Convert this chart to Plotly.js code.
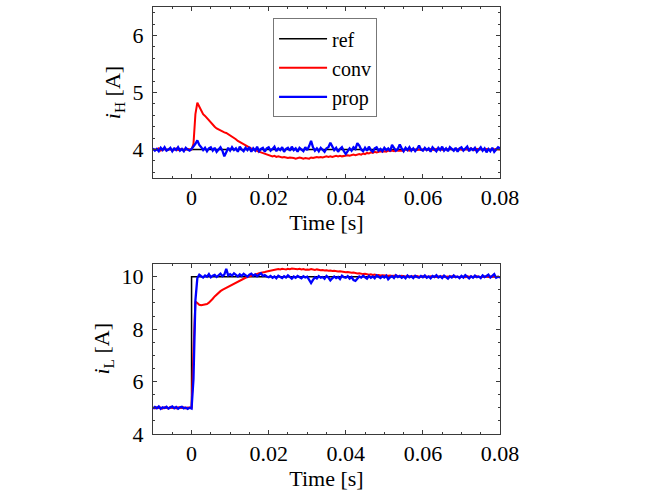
<!DOCTYPE html>
<html>
<head>
<meta charset="utf-8">
<script src="https://cdn.plot.ly/plotly-3.0.1.min.js"></script>
<style>
  body { margin: 0; background: #fff; }
  #chart { width: 649px; height: 492px; }
</style>
</head>
<body>
<div id="chart"></div>
<script>
// sampling of the measured traces: t = -0.01 s, step 0.5 ms, up to 0.08 s
var t0 = -0.01;
var dt = 0.0005;

// reference step
var refTime = [-0.01, 0, 0, 0.08];
var refH = [4, 4, 4, 4];
var refL = [5, 5, 10, 10];

// i_H, conventional
var convH = [
  4.01, 3.99, 4.00, 4.02, 3.98, 4.00, 4.01, 3.99, 4.00, 4.01, 3.98, 4.00, 4.02, 3.99, 4.00, 4.01, 3.99, 4.00, 4.01, 4.00,
  4.00, 4.10, 4.62, 4.82, 4.76, 4.68, 4.62, 4.59, 4.55, 4.50, 4.46, 4.43, 4.40, 4.37, 4.35, 4.34, 4.32, 4.30, 4.29, 4.27,
  4.24, 4.22, 4.20, 4.18, 4.15, 4.13, 4.11, 4.09, 4.07, 4.05, 4.03, 4.02, 4.00, 3.99, 3.97, 3.96, 3.95, 3.94, 3.93, 3.92,
  3.91, 3.90, 3.88, 3.89, 3.87, 3.88, 3.87, 3.86, 3.87, 3.86, 3.85, 3.86, 3.86, 3.85, 3.84, 3.85, 3.86, 3.85, 3.84, 3.85,
  3.85, 3.84, 3.86, 3.85, 3.86, 3.87, 3.86, 3.87, 3.86, 3.87, 3.88, 3.87, 3.88, 3.87, 3.88, 3.89, 3.88, 3.89, 3.88, 3.89,
  3.89, 3.90, 3.89, 3.90, 3.91, 3.90, 3.91, 3.92, 3.91, 3.93, 3.92, 3.94, 3.93, 3.95, 3.94, 3.96, 3.95, 3.96, 3.97, 3.96,
  3.97, 3.96, 3.98, 3.97, 3.98, 3.97, 3.99, 3.98, 3.98, 3.99, 3.98, 4.00, 3.99, 3.98, 4.00, 3.99, 4.00, 3.99, 4.00, 3.99,
  4.00, 4.01, 3.99, 4.00, 4.01, 4.00, 3.99, 4.01, 4.00, 4.01, 4.00, 3.99, 4.01, 4.00, 4.02, 4.00, 3.99, 4.01, 4.00, 4.01,
  4.00, 3.99, 4.01, 4.00, 4.01, 4.02, 4.00, 3.99, 4.01, 4.00, 4.01, 3.99, 4.00, 4.01, 4.00, 3.99, 4.01, 4.00, 4.01, 4.00, 4.00
];

// i_H, proposed
var propH = [
  4.02, 3.98, 4.01, 3.97, 4.03, 3.99, 4.04, 3.98, 4.00, 4.03, 3.97, 4.02, 3.99, 4.04, 3.98, 4.01, 3.97, 4.03, 4.00, 3.98,
  4.01, 4.05, 4.10, 4.16, 4.08, 4.04, 3.99, 4.03, 3.97, 4.02, 4.04, 3.98, 4.03, 3.96, 4.01, 4.04, 3.98, 3.88, 3.95, 4.03,
  3.98, 4.04, 3.99, 4.02, 3.96, 4.05, 4.00, 3.97, 4.03, 3.99, 4.04, 3.96, 4.02, 3.98, 4.05, 3.97, 4.01, 4.03, 3.96, 4.02,
  4.04, 3.98, 4.01, 4.05, 3.97, 4.02, 3.99, 4.04, 3.96, 4.01, 4.03, 3.98, 4.05, 3.99, 4.02, 3.96, 4.03, 4.00, 3.97, 4.04,
  3.99, 4.06, 4.15, 4.04, 3.98, 4.02, 3.97, 4.03, 4.00, 3.96, 4.02, 4.04, 4.12, 4.05, 3.99, 4.03, 3.96, 4.01, 4.04, 3.97,
  3.92, 3.97, 4.02, 3.98, 4.04, 4.01, 4.11, 4.07, 4.00, 3.97, 4.03, 3.98, 4.05, 3.99, 3.96, 4.02, 4.04, 3.98, 4.01, 3.97,
  4.03, 3.99, 4.02, 3.97, 4.08, 4.03, 3.98, 4.01, 4.09, 4.02, 3.97, 4.03, 3.99, 4.04, 3.98, 4.02, 3.97, 4.01, 4.07, 4.00,
  3.98, 4.03, 3.99, 4.02, 3.96, 4.04, 4.00, 3.97, 4.03, 3.99, 4.05, 3.98, 4.02, 3.97, 4.04, 4.00, 3.98, 4.03, 3.96, 4.02,
  4.04, 3.98, 4.01, 4.05, 3.97, 4.02, 3.99, 4.03, 3.96, 4.01, 4.04, 3.98, 4.02, 3.95, 4.01, 3.97, 4.03, 3.96, 4.00, 4.04, 4.02
];

// i_L, conventional
var convL = [
  5.00, 4.98, 5.02, 4.99, 5.01, 4.97, 5.02, 5.00, 4.98, 5.03, 4.99, 5.01, 4.98, 5.02, 5.00, 4.99, 5.02, 4.98, 5.01, 5.00,
  5.00, 7.20, 9.05, 9.00, 8.93, 8.91, 8.92, 8.93, 8.96, 9.01, 9.07, 9.16, 9.25, 9.33, 9.39, 9.45, 9.50, 9.54, 9.59, 9.63,
  9.66, 9.70, 9.74, 9.78, 9.82, 9.85, 9.89, 9.92, 9.96, 9.99, 10.02, 10.04, 10.07, 10.09, 10.11, 10.13, 10.14, 10.16, 10.18, 10.20,
  10.22, 10.24, 10.26, 10.27, 10.28, 10.29, 10.28, 10.30, 10.29, 10.28, 10.30, 10.29, 10.31, 10.30, 10.28, 10.29, 10.30, 10.28, 10.29, 10.27,
  10.28, 10.27, 10.29, 10.27, 10.26, 10.28, 10.26, 10.25, 10.26, 10.24, 10.25, 10.23, 10.24, 10.22, 10.23, 10.21, 10.20, 10.21, 10.19, 10.18,
  10.17, 10.18, 10.16, 10.15, 10.16, 10.14, 10.12, 10.13, 10.11, 10.10, 10.11, 10.09, 10.08, 10.09, 10.07, 10.08, 10.06, 10.07, 10.05, 10.06,
  10.05, 10.06, 10.04, 10.05, 10.03, 10.04, 10.05, 10.03, 10.02, 10.04, 10.03, 10.01, 10.03, 10.02, 10.00, 10.02, 10.01, 10.03, 10.00, 10.01,
  10.02, 10.00, 10.01, 9.99, 10.02, 10.00, 10.01, 9.99, 10.01, 10.00, 10.02, 9.99, 10.00, 10.01, 9.99, 10.02, 10.00, 10.01, 9.99, 10.00,
  10.01, 10.00, 9.98, 10.02, 10.00, 10.01, 9.99, 10.00, 10.02, 10.00, 9.99, 10.01, 10.00, 10.02, 9.99, 10.01, 10.00, 10.02, 9.99, 10.00, 9.98
];

// i_L, proposed
var propL = [
  4.97, 5.03, 4.98, 5.05, 4.96, 5.02, 4.99, 5.04, 4.97, 5.01, 5.05, 4.98, 5.03, 4.96, 5.02, 5.04, 4.98, 5.01, 4.96, 5.00,
  4.97, 6.10, 9.10, 9.95, 10.08, 10.02, 9.97, 10.05, 10.00, 10.10, 9.98, 10.04, 10.07, 9.99, 10.06, 10.12, 10.02, 10.08, 10.30, 10.05,
  10.10, 10.04, 10.13, 10.06, 10.01, 10.09, 10.03, 10.11, 10.05, 10.00, 10.08, 10.12, 10.04, 10.09, 10.02, 10.07, 10.13, 10.03, 10.06, 10.01,
  9.98, 10.03, 9.96, 10.01, 9.94, 10.04, 9.99, 9.95, 10.02, 9.97, 10.05, 9.98, 9.93, 10.01, 9.96, 10.03, 9.99, 9.94, 10.02, 9.97,
  10.00, 9.90, 9.76, 9.88, 9.98, 9.93, 10.02, 9.96, 9.99, 9.92, 10.03, 9.97, 9.86, 9.94, 10.01, 9.95, 9.99, 9.91, 10.04, 9.98,
  9.96, 10.02, 9.93, 9.99, 9.87, 9.84, 9.95, 10.01, 9.97, 10.04, 9.98, 9.93, 10.03, 9.96, 10.01, 9.94, 10.05, 9.99, 9.95, 10.02,
  9.97, 10.04, 9.90, 9.98, 10.02, 9.95, 10.06, 9.99, 10.03, 9.96, 10.01, 9.94, 10.05, 9.98, 10.02, 9.95, 10.04, 9.99, 9.96, 10.03,
  9.98, 10.05, 9.96, 10.01, 9.94, 10.03, 9.99, 10.06, 9.97, 10.02, 9.95, 10.04, 9.99, 9.93, 10.02, 9.97, 10.05, 9.98, 10.01, 9.95,
  10.03, 9.97, 10.06, 9.99, 9.94, 10.02, 9.96, 10.04, 9.98, 10.01, 9.95, 10.05, 9.99, 10.03, 10.08, 9.97, 10.02, 10.10, 9.96, 10.00, 9.97
];

var xTicks = [0, 0.02, 0.04, 0.06, 0.08];
var xTickText = ['0', '0.02', '0.04', '0.06', '0.08'];

var serif = '"Liberation Serif", "Times New Roman", serif';
var frame = '#3a3a3a';

function sampled(y, name, color, width, xa, ya, show) {
    return {
        x0: t0, dx: dt, y: y,
        mode: 'lines', name: name,
        line: { color: color, width: width },
        xaxis: xa, yaxis: ya,
        showlegend: show
    };
}

function refTrace(y, xa, ya, show) {
    return {
        x: refTime, y: y,
        mode: 'lines', name: 'ref',
        line: { color: '#000000', width: 1.5 },
        xaxis: xa, yaxis: ya,
        showlegend: show
    };
}

var data = [
    refTrace(refH, 'x', 'y', true),
    sampled(convH, 'conv', '#ff0000', 2, 'x', 'y', true),
    sampled(propH, 'prop', '#0000ff', 2.3, 'x', 'y', true),
    refTrace(refL, 'x2', 'y2', false),
    sampled(convL, 'conv', '#ff0000', 2, 'x2', 'y2', false),
    sampled(propL, 'prop', '#0000ff', 2.3, 'x2', 'y2', false)
];

function xAxis(anchor) {
    return {
        anchor: anchor,
        range: [-0.01, 0.08],
        tickvals: xTicks, ticktext: xTickText,
        ticks: 'inside', ticklen: 4, tickcolor: frame,
        minor: { dtick: 0.005, ticks: 'inside', ticklen: 2, tickcolor: frame },
        showline: true, linecolor: frame, linewidth: 1, mirror: 'ticks',
        showgrid: false, zeroline: false,
        tickfont: { family: serif, size: 22, color: '#000' },
        title: { text: 'Time [s]', font: { family: serif, size: 22, color: '#000' }, standoff: 4 }
    };
}

function yAxis(anchor, range, ticks, minor, label) {
    return {
        anchor: anchor,
        range: range,
        tickvals: ticks,
        ticks: 'inside', ticklen: 4, tickcolor: frame,
        minor: { dtick: minor, ticks: 'inside', ticklen: 2, tickcolor: frame },
        showline: true, linecolor: frame, linewidth: 1, mirror: 'ticks',
        showgrid: false, zeroline: false,
        ticklabelstandoff: 4,
        tickfont: { family: serif, size: 22, color: '#000' },
        title: { text: label, font: { family: serif, size: 22, color: '#000' }, standoff: 5 }
    };
}

var layout = {
    width: 649, height: 492,
    margin: { l: 153, r: 149, t: 7, b: 58 },
    paper_bgcolor: '#ffffff', plot_bgcolor: '#ffffff',
    font: { family: serif, size: 22, color: '#000' },
    xaxis: Object.assign(xAxis('y'), { domain: [0, 1] }),
    yaxis: Object.assign(yAxis('x', [3.5, 6.5], [4, 5, 6], 0.2, '<i>i</i><sub>H</sub> [A]'), { domain: [0.5995, 1] }),
    xaxis2: Object.assign(xAxis('y2'), { domain: [0, 1] }),
    yaxis2: Object.assign(yAxis('x2', [4, 10.5], [4, 6, 8, 10], 0.5, '<i>i</i><sub>L</sub> [A]'), { domain: [0, 0.399] }),
    legend: {
        x: 0.346, y: 0.9735, xanchor: 'left', yanchor: 'top',
        bgcolor: '#ffffff', bordercolor: '#777777', borderwidth: 1,
        font: { family: serif, size: 20, color: '#000' },
        itemwidth: 48,
        tracegroupgap: 0
    },
    showlegend: true
};

Plotly.newPlot('chart', data, layout, { staticPlot: true, displayModeBar: false });
</script>
</body>
</html>
